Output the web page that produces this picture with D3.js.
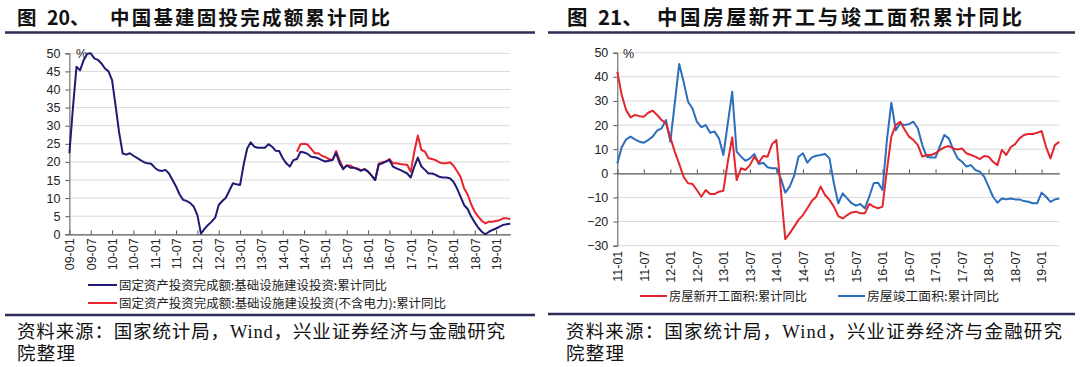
<!DOCTYPE html>
<html><head><meta charset="utf-8">
<script src="https://cdn.jsdelivr.net/npm/d3@7/dist/d3.min.js"></script>
<style>
body{margin:0;background:#fff;}
svg{display:block;}
text{font-family:"Liberation Sans",Arial,"Noto Sans CJK SC",sans-serif;}
.cjk{font-family:"Noto Sans CJK SC",sans-serif;}
.src{font-family:"Liberation Serif","Noto Sans CJK SC",serif;}
</style></head>
<body>
<svg id="c" width="1080" height="367"></svg>
<script>
// ---------- DATA ----------
const leftTitle = ["图","20、","中国基建固投完成额累计同比"];
const rightTitle = ["图","21、","中国房屋新开工与竣工面积累计同比"];
const sourceLine1 = "资料来源：国家统计局，Wind，兴业证券经济与金融研究";
const sourceLine2 = "院整理";

// left chart: monthly, index 0 = 09-01
const leftTickLabels = ["09-01","09-07","10-01","10-07","11-01","11-07","12-01","12-07","13-01","13-07","14-01","14-07","15-01","15-07","16-01","16-07","17-01","17-07","18-01","18-07","19-01"];
const leftYTicks = [0,5,10,15,20,25,30,35,40,45,50];
const leftSeriesNames = ["固定资产投资完成额:基础设施建设投资:累计同比","固定资产投资完成额:基础设施建设投资(不含电力):累计同比"];
const leftBlue = [22.4,35,46.3,45.3,48.1,49.9,50,48.6,48.2,47.2,45.8,45,42.6,35.5,28,22.3,22.0,22.4,21.7,21.1,20.5,19.9,19.6,19.5,18.4,17.7,17.5,17.8,16.8,15.0,13.2,11.0,9.5,9.2,8.6,7.6,5.3,0.2,1.5,2.6,3.5,4.6,8.1,9.2,10.1,12.1,14.1,13.8,13.6,19.2,23.7,25.4,24.2,23.9,23.9,23.9,24.9,24.2,23.1,23.0,21.0,19.6,18.7,20.5,20.8,22.8,22.6,22.2,21.4,21.3,21.0,20.5,20.1,20.3,20.5,22.5,19.6,18.0,19.0,18.4,18.4,18.0,17.5,18.0,17.3,16.2,15.0,19.3,19.6,20.1,20.5,18.7,18.2,17.8,17.3,16.8,15.7,18.7,21.2,18.7,17.8,16.8,16.8,16.4,15.9,15.7,15.7,15.5,14.5,12.7,10.4,8.1,7.0,4.9,3.3,1.8,0.7,0.0,0.7,1.2,1.6,2.1,2.6,2.8,2.9];
const leftRedStart = 64;
const leftRed = [22.8,24.9,25.0,24.8,23.6,22.4,22.4,21.7,21.3,20.8,20.5,23.0,20.5,18.2,19.0,19.0,18.4,18.2,17.7,18.0,17.3,16.2,15.0,19.5,19.9,20.1,20.8,19.6,19.6,19.4,19.3,19.2,17.3,22.8,27.3,23.3,22.8,21.0,20.8,20.5,19.9,19.6,19.6,19.9,19.0,17.5,15.9,12.7,11.0,8.3,6.2,4.9,3.7,3.0,3.5,3.5,3.7,3.9,4.4,4.4,4.2];

// right chart: monthly, index 0 = 11-01
const rightTickLabels = ["11-01","11-07","12-01","12-07","13-01","13-07","14-01","14-07","15-01","15-07","16-01","16-07","17-01","17-07","18-01","18-07","19-01"];
const rightYTicks = [-30,-20,-10,0,10,20,30,40,50];
const rightSeriesNames = ["房屋新开工面积:累计同比","房屋竣工面积:累计同比"];
const rightRed = [42.1,32.5,26.2,23.2,24.2,23.7,23.5,25.1,26.0,24.2,22.1,20.7,14.9,9.0,3.9,-1.4,-4.1,-4.4,-6.9,-9.7,-6.9,-8.6,-8.6,-7.6,-7.2,4.8,14.9,-2.8,2.1,1.4,3.4,6.9,4.4,7.2,6.9,12.1,13.8,-6.9,-27.3,-24.9,-22.1,-19.3,-17.3,-14.5,-11.5,-9.7,-5.5,-9.0,-11.0,-13.8,-17.7,-18.7,-17.3,-16.2,-15.9,-16.6,-16.6,-12.7,-13.8,-14.5,-13.8,1.4,15.2,20.0,21.4,18.2,15.2,13.8,11.7,6.9,7.6,7.6,8.3,9.7,10.8,11.3,10.3,9.9,10.3,8.3,7.6,6.9,5.9,7.2,6.9,4.8,3.4,9.7,7.6,10.8,12.1,14.5,15.9,16.3,16.3,16.8,17.5,11.0,6.2,11.7,13.1];
const rightBlue = [4.1,10.8,14.1,15.2,14.1,13.1,12.7,13.8,15.2,17.7,18.6,22.1,13.1,29.0,45.3,38.0,29.7,26.9,21.4,19.1,20.0,16.8,17.3,14.5,7.6,20.7,33.8,9.0,6.9,5.2,6.2,8.0,3.9,4.4,2.5,2.1,2.1,-2.1,-8.0,-5.5,-1.1,6.9,8.3,4.4,6.6,7.3,7.6,8.0,6.2,-4.1,-12.4,-8.3,-10.4,-12.4,-13.4,-12.7,-14.5,-9.7,-4.1,-3.9,-6.9,13.8,29.3,17.9,20.7,20.0,20.4,21.4,18.6,11.7,6.9,6.6,6.6,11.3,15.9,14.5,9.9,6.2,4.8,2.8,3.4,1.4,0.7,-1.4,-5.5,-9.7,-12.2,-10.4,-10.8,-10.4,-10.8,-10.8,-11.5,-11.8,-12.4,-12.4,-8.0,-9.7,-11.8,-10.8,-10.4];

// ---------- DRAW ----------
const svg = d3.select("#c");
svg.append("rect").attr("width",1080).attr("height",367).attr("fill","#fff");

const RULE = "#2b2d57";
const GRID = "#d9d9d9";
const AXIS = "#555";

function titleBlock(x0, x1, parts, tx, numX, mainX, mainW, fs){
  const t = svg.append("g").attr("fill","#111").attr("font-weight",700);
  t.append("text").attr("class","cjk").attr("x",tx).attr("y",25).attr("font-size",fs).text(parts[0]);
  t.append("text").attr("class","cjk").attr("x",numX).attr("y",25).attr("font-size",fs).text(parts[1]);
  t.append("text").attr("class","cjk").attr("x",mainX).attr("y",25).attr("font-size",fs)
    .attr("textLength",mainW).attr("lengthAdjust","spacing").text(parts[2]);
  svg.append("line").attr("x1",x0).attr("x2",x1).attr("y1",32.5).attr("y2",32.5)
    .attr("stroke",RULE).attr("stroke-width",2.5);
}
function sourceBlock(x0, x1, ruleY, tx, w1){
  svg.append("line").attr("x1",x0).attr("x2",x1).attr("y1",ruleY).attr("y2",ruleY)
    .attr("stroke",RULE).attr("stroke-width",2.5);
  svg.append("text").attr("class","src").attr("x",tx).attr("y",338).attr("font-size",18.5).attr("fill","#111")
    .attr("textLength",w1).attr("lengthAdjust","spacing").text(sourceLine1);
  svg.append("text").attr("class","src").attr("x",tx).attr("y",360).attr("font-size",18.5).attr("fill","#111")
    .attr("textLength",58).attr("lengthAdjust","spacing").text(sourceLine2);
}

// ===== LEFT CHART =====
titleBlock(5, 535, leftTitle, 17, 47, 110, 280, 19.5);
{
  const x = d3.scaleLinear().domain([0,124]).range([69.4,510.3]);
  const y = d3.scaleLinear().domain([0,50]).range([234.3,53.3]);
  const g = svg.append("g");
  g.selectAll(".gl").data(leftYTicks.filter(d=>d>0)).join("line")
    .attr("x1",x(0)).attr("x2",x(124)).attr("y1",d=>y(d)).attr("y2",d=>y(d))
    .attr("stroke",GRID).attr("stroke-width",1);
  const ya = g.append("g").attr("transform",`translate(${x(0)},0)`)
    .call(d3.axisLeft(y).tickValues(leftYTicks).tickSize(4).tickPadding(5).tickFormat(d3.format("d")));
  ya.select(".domain").attr("stroke",AXIS);
  ya.selectAll(".tick line").attr("stroke",AXIS);
  ya.selectAll("text").attr("font-size",12.5).attr("fill","#222").attr("font-family","Liberation Sans, Arial, sans-serif");
  const xa = g.append("g").attr("transform",`translate(0,${y(0)})`)
    .call(d3.axisBottom(x).tickValues(leftTickLabels.map((d,i)=>i*6)).tickSize(-4).tickSizeOuter(0)
      .tickFormat((d,i)=>leftTickLabels[i]));
  xa.select(".domain").attr("stroke",AXIS).attr("stroke-width",1.2);
  xa.selectAll(".tick line").attr("stroke",AXIS);
  xa.selectAll("text").attr("font-size",12.5).attr("fill","#222")
    .attr("font-family","Liberation Sans, Arial, sans-serif")
    .attr("transform","rotate(-90)").attr("text-anchor","end")
    .attr("x",-4).attr("y",0).attr("dy","0.35em");
  g.append("text").attr("x",76).attr("y",58).attr("font-size",12.5).attr("fill","#222").text("%");
  const line = d3.line().x(d=>x(d.i)).y(d=>y(d.v));
  const blueData = leftBlue.map((v,i)=>({i,v}));
  const redData = leftRed.map((v,i)=>({i:i+leftRedStart,v}));
  g.append("path").datum(redData).attr("d",line).attr("fill","none").attr("stroke","#e8232b").attr("stroke-width",2).attr("stroke-linejoin","round");
  g.append("path").datum(blueData).attr("d",line).attr("fill","none").attr("stroke","#1e1b74").attr("stroke-width",2).attr("stroke-linejoin","round");
  const lg = [{c:"#1e1b74",t:leftSeriesNames[0],y:285,w:268},{c:"#e8232b",t:leftSeriesNames[1],y:303,w:327}];
  lg.forEach(d=>{
    svg.append("line").attr("x1",88).attr("x2",117).attr("y1",d.y).attr("y2",d.y).attr("stroke",d.c).attr("stroke-width",2);
    svg.append("text").attr("class","cjk").attr("x",119).attr("y",d.y+4.5).attr("font-size",12.2).attr("fill","#222")
      .attr("textLength",d.w).attr("lengthAdjust","spacingAndGlyphs").text(d.t);
  });
}
sourceBlock(5, 535, 315, 17, 488);

// ===== RIGHT CHART =====
titleBlock(548, 1075, rightTitle, 567, 598, 657, 365, 20.5);
{
  const x = d3.scaleLinear().domain([0,100]).range([617.3,1059.3]);
  const y = d3.scaleLinear().domain([-30,50]).range([245.7,52.7]);
  const g = svg.append("g");
  g.selectAll(".gl").data(rightYTicks.filter(d=>d!==0)).join("line")
    .attr("x1",x(0)).attr("x2",x(100)).attr("y1",d=>y(d)).attr("y2",d=>y(d))
    .attr("stroke",GRID).attr("stroke-width",1);
  const ya = g.append("g").attr("transform",`translate(${x(0)},0)`)
    .call(d3.axisLeft(y).tickValues(rightYTicks).tickSize(4).tickPadding(5).tickFormat(d3.format("d")));
  ya.select(".domain").attr("stroke",AXIS);
  ya.selectAll(".tick line").attr("stroke",AXIS);
  ya.selectAll("text").attr("font-size",12.5).attr("fill","#222").attr("font-family","Liberation Sans, Arial, sans-serif");
  const za = g.append("g").attr("transform",`translate(0,${y(0)})`)
    .call(d3.axisBottom(x).tickValues(rightTickLabels.map((d,i)=>i*6)).tickSize(-4).tickSizeOuter(0).tickFormat(""));
  za.select(".domain").attr("stroke",AXIS).attr("stroke-width",1.2);
  za.selectAll(".tick line").attr("stroke",AXIS);
  const xa = g.append("g").attr("transform",`translate(0,${y(-30)})`)
    .call(d3.axisBottom(x).tickValues(rightTickLabels.map((d,i)=>i*6)).tickSize(0).tickSizeOuter(0)
      .tickFormat((d,i)=>rightTickLabels[i]));
  xa.select(".domain").remove();
  xa.selectAll("text").attr("font-size",12.5).attr("fill","#222")
    .attr("font-family","Liberation Sans, Arial, sans-serif")
    .attr("transform","rotate(-90)").attr("text-anchor","end")
    .attr("x",-5).attr("y",0).attr("dy","0.35em");
  g.append("text").attr("x",623).attr("y",58).attr("font-size",12.5).attr("fill","#222").text("%");
  const line = d3.line().x(d=>x(d.i)).y(d=>y(d.v));
  g.append("path").datum(rightBlue.map((v,i)=>({i,v}))).attr("d",line).attr("fill","none").attr("stroke","#2a6ebd").attr("stroke-width",2).attr("stroke-linejoin","round");
  g.append("path").datum(rightRed.map((v,i)=>({i,v}))).attr("d",line).attr("fill","none").attr("stroke","#e3262d").attr("stroke-width",2).attr("stroke-linejoin","round");
  const lg = [{c:"#e3262d",t:rightSeriesNames[0],x:640,w:138},{c:"#2a6ebd",t:rightSeriesNames[1],x:838,w:132}];
  lg.forEach(d=>{
    svg.append("line").attr("x1",d.x).attr("x2",d.x+27).attr("y1",296).attr("y2",296).attr("stroke",d.c).attr("stroke-width",2);
    svg.append("text").attr("class","cjk").attr("x",d.x+29).attr("y",300.5).attr("font-size",12.5).attr("fill","#222")
      .attr("textLength",d.w).attr("lengthAdjust","spacingAndGlyphs").text(d.t);
  });
}
sourceBlock(548, 1075, 314, 566, 496);
</script>
</body></html>
